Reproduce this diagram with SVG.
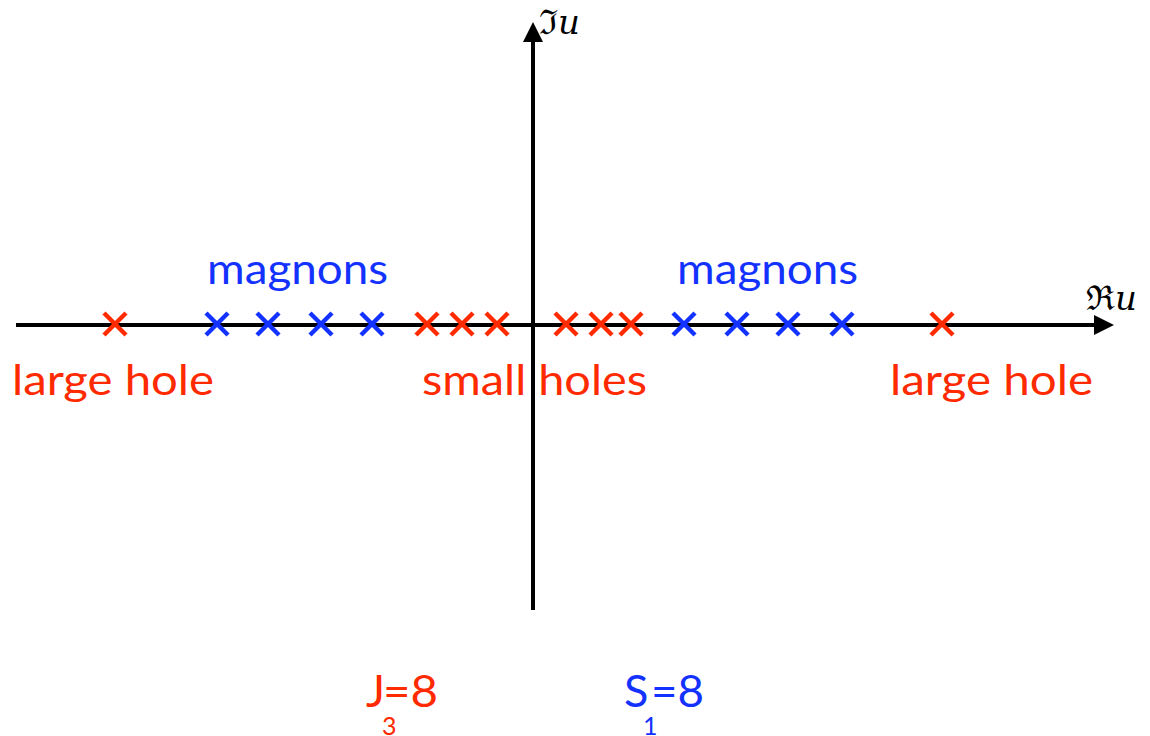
<svg xmlns="http://www.w3.org/2000/svg" width="1150" height="736" viewBox="0 0 1150 736">
<defs>
<style>
.ax{stroke:#000;stroke-width:4;fill:none}
.r{stroke:#ff2a00;stroke-width:4.5;stroke-linecap:butt}
.b{stroke:#1432ff;stroke-width:4.5;stroke-linecap:butt}
.t{font-family:"Lato","Open Sans","Liberation Sans",sans-serif;font-size:42px}
.big{font-size:45px}
.sub{font-size:25px}
.tr{fill:#ff2a00}
.tb{fill:#1432ff}
.m{font-family:"DejaVu Serif","Liberation Serif",serif;font-size:34px;fill:#000}
</style>
<marker id="ah" viewBox="0 0 10 10" refX="2" refY="5" markerWidth="6" markerHeight="5" orient="auto" markerUnits="strokeWidth">
<path d="M0,0 L10,5 L0,10 Z" fill="#000"/>
</marker>
<g id="xr"><line class="r" x1="-11" y1="-11" x2="11" y2="11"/><line class="r" x1="-11" y1="11" x2="11" y2="-11"/></g>
<g id="xb"><line class="b" x1="-11" y1="-11" x2="11" y2="11"/><line class="b" x1="-11" y1="11" x2="11" y2="-11"/></g>
</defs>
<rect width="1150" height="736" fill="#fff"/>
<g id="connectors">
<line class="ax" x1="16" y1="325" x2="1098" y2="325" marker-end="url(#ah)"/>
<line class="ax" x1="533" y1="610" x2="533" y2="38" marker-end="url(#ah)"/>
</g>
<g id="axis-labels">
<text class="m" x="1086" y="310">ℜ<tspan font-style="italic">u</tspan></text>
<text class="m" x="539" y="34">ℑ<tspan font-style="italic">u</tspan></text>
</g>
<g id="markers">
<use href="#xr" x="115" y="324"/>
<use href="#xb" x="217" y="324"/>
<use href="#xb" x="268" y="324"/>
<use href="#xb" x="321" y="324"/>
<use href="#xb" x="372" y="324"/>
<use href="#xr" x="427" y="324"/>
<use href="#xr" x="462" y="324"/>
<use href="#xr" x="497" y="324"/>
<use href="#xr" x="566" y="324"/>
<use href="#xr" x="601" y="324"/>
<use href="#xr" x="631" y="324"/>
<use href="#xb" x="684" y="324"/>
<use href="#xb" x="737" y="324"/>
<use href="#xb" x="788" y="324"/>
<use href="#xb" x="842" y="324"/>
<use href="#xr" x="942" y="324"/>
</g>
<g id="labels">
<text class="t tb" x="207" y="284" textLength="181" lengthAdjust="spacingAndGlyphs">magnons</text>
<text class="t tb" x="677" y="284" textLength="181" lengthAdjust="spacingAndGlyphs">magnons</text>
<text class="t tr" x="12" y="395" textLength="202" lengthAdjust="spacingAndGlyphs">large hole</text>
<text class="t tr" x="422" y="395" textLength="225" lengthAdjust="spacingAndGlyphs">small holes</text>
<text class="t tr" x="890" y="395" textLength="203" lengthAdjust="spacingAndGlyphs">large hole</text>
<g id="j3">
<text class="t big tr" x="366" y="707">J</text>
<text class="t sub tr" x="382" y="735">3</text>
<text class="t big tr" x="383" y="707" textLength="55" lengthAdjust="spacingAndGlyphs">=8</text>
</g>
<g id="s1">
<text class="t big tb" x="624" y="707">S</text>
<text class="t sub tb" x="643" y="735">1</text>
<text class="t big tb" x="651" y="707" textLength="53" lengthAdjust="spacingAndGlyphs">=8</text>
</g>
</g>
</svg>
